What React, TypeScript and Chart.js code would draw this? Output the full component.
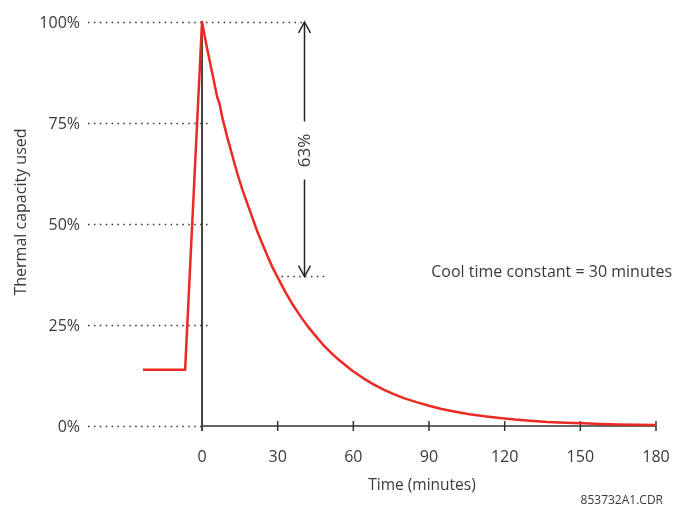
import React, { useEffect, useRef } from "react";
import { Chart, registerables } from "chart.js";

Chart.register(...registerables);

// Time in minutes (x) and thermal capacity used in % (y)
const times = [
  -23.4, -6.7, 0, 2, 4, 6, 7, 8, 10, 12, 14, 16, 18, 20, 22, 24, 26, 28, 30, 33, 36, 39, 42, 45,
  48, 51, 54, 57, 60, 64, 68, 72, 76, 80, 85, 90, 95, 100, 106, 112, 118, 124, 130, 137, 144,
  151, 158, 165, 172, 180,
];
const capacity = [
  13.9, 13.9, 100, 93.5, 87.5, 81.5, 79.6, 76.5, 71.5, 67, 62.5, 58.5, 55, 51.5, 48, 45, 42,
  39.2, 36.8, 33.2, 30, 27.2, 24.6, 22.3, 20.1, 18.2, 16.5, 15, 13.5, 11.8, 10.3, 9.0, 7.9, 6.9,
  5.9, 5.0, 4.2, 3.6, 2.9, 2.4, 2.0, 1.6, 1.3, 1.0, 0.8, 0.65, 0.5, 0.4, 0.3, 0.25,
];

const xTicks = [30, 60, 90, 120, 150, 180];
const xTickLabels = ["0", "30", "60", "90", "120", "150", "180"];
const xLabelValues = [0, 30, 60, 90, 120, 150, 180];
const yTicks = [0, 25, 50, 75, 100];
const yTickLabels = ["0%", "25%", "50%", "75%", "100%"];

const xMin = -23.4;
const xMax = 180;

// 63% annotation: from 100% down to 37% at the time constant
const arrowTime = 40.5;
const arrowTop = 100;
const arrowBottom = 37;
const arrowLabel = "63%";
const refLineStart = 31.5;
const refLineEnd = 48.8;

const xTitle = "Time (minutes)";
const yTitle = "Thermal capacity used";
const noteText = "Cool time constant = 30 minutes";
const noteY = 38;
const figureId = "853732A1.CDR";

const FONT = '"Open Sans", "DejaVu Sans", sans-serif';
const TEXT = "#3a3a3a";
const AXIS = "#333333";
const RED = "#ec2a24";

const overlay = {
  id: "overlay",
  beforeDatasetsDraw(chart: any) {
    const ctx = chart.ctx as CanvasRenderingContext2D;
    const xs = chart.scales.x;
    const ys = chart.scales.y;
    const x0 = xs.getPixelForValue(0);
    const y0 = ys.getPixelForValue(0);
    const arrowX = xs.getPixelForValue(arrowTime);
    ctx.save();

    // dotted guide lines
    ctx.strokeStyle = AXIS;
    ctx.lineWidth = 1.5;
    ctx.setLineDash([1.5, 4.4]);
    yTicks.forEach((v) => {
      const y = Math.round(ys.getPixelForValue(v)) + 0.5;
      let end = x0 + 6;
      if (v === 100) end = arrowX + 2;
      if (v === 0) end = x0;
      ctx.beginPath();
      ctx.moveTo(88, y);
      ctx.lineTo(end, y);
      ctx.stroke();
    });
    const yRef = ys.getPixelForValue(arrowBottom);
    ctx.beginPath();
    ctx.moveTo(xs.getPixelForValue(refLineStart), yRef);
    ctx.lineTo(xs.getPixelForValue(refLineEnd), yRef);
    ctx.stroke();
    ctx.setLineDash([]);

    // axes
    ctx.strokeStyle = "#444";
    ctx.lineWidth = 2;
    ctx.beginPath();
    ctx.moveTo(x0, ys.getPixelForValue(100));
    ctx.lineTo(x0, y0 + 5);
    ctx.stroke();
    ctx.strokeStyle = AXIS;
    ctx.lineWidth = 1.5;
    ctx.beginPath();
    ctx.moveTo(x0, y0);
    ctx.lineTo(xs.getPixelForValue(xMax), y0);
    ctx.stroke();
    xTicks.forEach((v) => {
      const x = xs.getPixelForValue(v);
      ctx.beginPath();
      ctx.moveTo(x, y0 - 5);
      ctx.lineTo(x, y0 + 5);
      ctx.stroke();
    });

    // tick labels
    ctx.fillStyle = TEXT;
    ctx.font = `16px ${FONT}`;
    ctx.textBaseline = "middle";
    ctx.textAlign = "right";
    yTicks.forEach((v, i) => {
      ctx.fillText(yTickLabels[i], 80, ys.getPixelForValue(v) + 1);
    });
    ctx.textAlign = "center";
    xLabelValues.forEach((v, i) => {
      ctx.fillText(xTickLabels[i], xs.getPixelForValue(v), y0 + 31);
    });

    // titles
    ctx.font = `15.5px ${FONT}`;
    ctx.fillText(xTitle, 422, 486);
    ctx.save();
    ctx.translate(21, 212);
    ctx.rotate(-Math.PI / 2);
    ctx.font = `16px ${FONT}`;
    ctx.fillText(yTitle, 0, 0);
    ctx.restore();

    ctx.textAlign = "right";
    ctx.font = `16px ${FONT}`;
    ctx.fillText(noteText, 672, ys.getPixelForValue(noteY));

    ctx.font = `12px ${FONT}`;
    ctx.fillText(figureId, 663, 501);
    ctx.restore();
  },
  afterDatasetsDraw(chart: any) {
    const ctx = chart.ctx as CanvasRenderingContext2D;
    const xs = chart.scales.x;
    const ys = chart.scales.y;
    const ax = Math.round(xs.getPixelForValue(arrowTime)) + 0.5;
    const yt = ys.getPixelForValue(arrowTop);
    const yb = ys.getPixelForValue(arrowBottom);
    const mid = yt + (yb - yt) * 0.505;
    ctx.save();
    ctx.strokeStyle = "#222";
    ctx.lineWidth = 1.5;
    ctx.beginPath();
    ctx.moveTo(ax, yt);
    ctx.lineTo(ax, mid - 29);
    ctx.moveTo(ax, mid + 29);
    ctx.lineTo(ax, yb);
    ctx.stroke();
    ctx.beginPath();
    ctx.moveTo(ax - 6, yt + 11);
    ctx.lineTo(ax, yt);
    ctx.lineTo(ax + 6, yt + 11);
    ctx.moveTo(ax - 6, yb - 11);
    ctx.lineTo(ax, yb);
    ctx.lineTo(ax + 6, yb - 11);
    ctx.stroke();
    ctx.translate(ax, mid);
    ctx.rotate(-Math.PI / 2);
    ctx.fillStyle = TEXT;
    ctx.font = `17px ${FONT}`;
    ctx.textAlign = "center";
    ctx.textBaseline = "middle";
    ctx.fillText(arrowLabel, 0, 1);
    ctx.restore();
  },
};

export default function App() {
  const ref = useRef<HTMLCanvasElement | null>(null);
  useEffect(() => {
    document.body.style.margin = "0";
    if (!ref.current) return;
    const chart = new Chart(ref.current, {
      type: "line",
      data: {
        datasets: [
          {
            data: times.map((t, i) => ({ x: t, y: capacity[i] })),
            borderColor: RED,
            borderWidth: 2.5,
            pointRadius: 0,
            tension: 0,
            fill: false,
            clip: false as any,
            borderJoinStyle: "round",
          },
        ],
      },
      options: {
        responsive: false,
        animation: false,
        events: [],
        layout: { padding: { left: 143, right: 17, top: 22, bottom: 82 } },
        plugins: { legend: { display: false }, tooltip: { enabled: false } },
        scales: {
          x: { type: "linear", min: xMin, max: xMax, display: false },
          y: { type: "linear", min: 0, max: 100, display: false },
        },
      },
      plugins: [overlay],
    });
    return () => chart.destroy();
  }, []);
  return (
    <div style={{ width: 673, height: 508, background: "#fff" }}>
      <canvas ref={ref} width={673} height={508} style={{ display: "block" }} />
    </div>
  );
}
